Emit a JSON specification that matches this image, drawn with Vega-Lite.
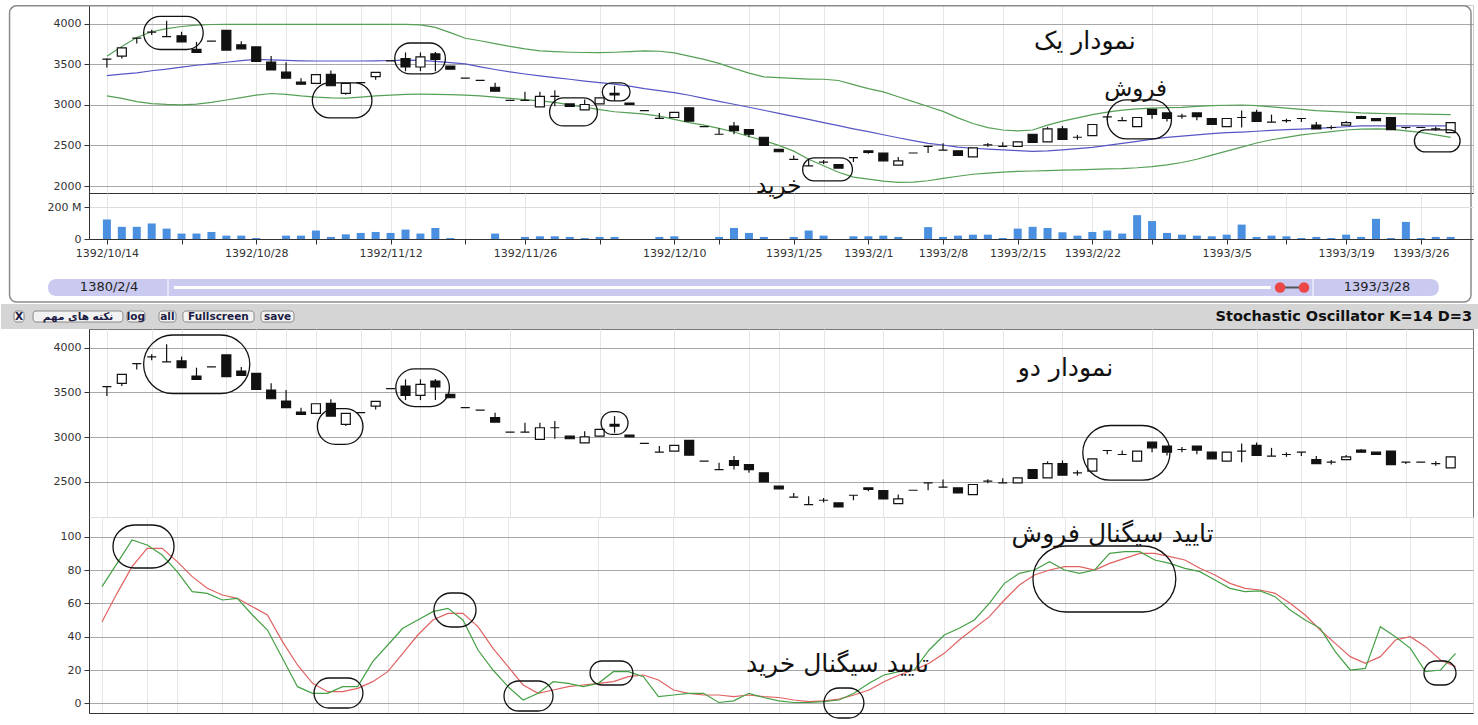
{
  "$schema": "https://vega.github.io/schema/vega-lite/v6.json",
  "padding": {"top": 4, "left": 0, "right": 0, "bottom": 8},
  "autosize": {"type": "pad"},
  "background": "#ffffff",
  "spacing": 0,
  "bounds": "flush",
  "config": {
    "font": "DejaVu Sans",
    "view": {"stroke": null},
    "concat": {"spacing": 0},
    "axis": {"labelFont": "DejaVu Sans", "labelFontSize": 11, "labelColor": "#333333", "domainColor": "#333333", "tickColor": "#333333", "tickSize": 5, "labelPadding": 3, "gridColor": "#a8a8a8", "labelOverlap": false},
    "axisX": {"gridColor": "#e6e6e6", "labelFlush": false, "labelOverlap": false}
  },
  "datasets": {
    "candles": [
      {"i":0,"o":3564,"h":3570,"l":3459,"c":3564,"u":3600,"m":3360,"lo":3110,"v":122,"k":70,"d":49},
      {"i":1,"o":3601,"h":3702,"l":3571,"c":3702,"u":3720,"m":3378,"lo":3080,"v":76,"k":84,"d":66},
      {"i":2,"o":3821,"h":3825,"l":3757,"c":3821,"u":3830,"m":3395,"lo":3040,"v":76,"k":98,"d":82},
      {"i":3,"o":3896,"h":3925,"l":3859,"c":3896,"u":3900,"m":3420,"lo":3015,"v":97,"k":95,"d":93},
      {"i":4,"o":3840,"h":4037,"l":3840,"c":3840,"u":3940,"m":3440,"lo":3005,"v":65,"k":89,"d":93},
      {"i":5,"o":3851,"h":3900,"l":3776,"c":3776,"u":3965,"m":3465,"lo":3000,"v":34,"k":79,"d":85},
      {"i":6,"o":3683,"h":3776,"l":3646,"c":3646,"u":3982,"m":3488,"lo":3010,"v":34,"k":67,"d":76},
      {"i":7,"o":3784,"h":3784,"l":3784,"c":3784,"u":3990,"m":3505,"lo":3030,"v":44,"k":66,"d":69},
      {"i":8,"o":3918,"h":3918,"l":3675,"c":3675,"u":3992,"m":3525,"lo":3060,"v":21,"k":62,"d":65},
      {"i":9,"o":3739,"h":3784,"l":3690,"c":3690,"u":3992,"m":3545,"lo":3090,"v":21,"k":63,"d":63},
      {"i":10,"o":3713,"h":3713,"l":3534,"c":3534,"u":3992,"m":3560,"lo":3120,"v":6,"k":53,"d":58},
      {"i":11,"o":3526,"h":3601,"l":3429,"c":3429,"u":3992,"m":3555,"lo":3140,"v":0,"k":44,"d":53},
      {"i":12,"o":3403,"h":3526,"l":3329,"c":3329,"u":3992,"m":3548,"lo":3130,"v":21,"k":27,"d":37},
      {"i":13,"o":3280,"h":3329,"l":3254,"c":3254,"u":3992,"m":3542,"lo":3110,"v":21,"k":10,"d":23},
      {"i":14,"o":3265,"h":3373,"l":3265,"c":3373,"u":3992,"m":3540,"lo":3095,"v":53,"k":6,"d":12},
      {"i":15,"o":3377,"h":3422,"l":3235,"c":3235,"u":3992,"m":3540,"lo":3085,"v":13,"k":6,"d":7},
      {"i":16,"o":3142,"h":3265,"l":3124,"c":3265,"u":3992,"m":3540,"lo":3082,"v":29,"k":10,"d":7},
      {"i":17,"o":3273,"h":3273,"l":3273,"c":3273,"u":3992,"m":3540,"lo":3095,"v":38,"k":10,"d":9},
      {"i":18,"o":3347,"h":3399,"l":3310,"c":3399,"u":3992,"m":3542,"lo":3110,"v":44,"k":25,"d":13},
      {"i":19,"o":3541,"h":3541,"l":3541,"c":3541,"u":3992,"m":3546,"lo":3120,"v":38,"k":35,"d":19},
      {"i":20,"o":3571,"h":3646,"l":3414,"c":3466,"u":3992,"m":3550,"lo":3128,"v":59,"k":45,"d":30},
      {"i":21,"o":3466,"h":3646,"l":3414,"c":3590,"u":3985,"m":3549,"lo":3131,"v":34,"k":50,"d":41},
      {"i":22,"o":3627,"h":3650,"l":3414,"c":3560,"u":3955,"m":3535,"lo":3130,"v":69,"k":55,"d":50},
      {"i":23,"o":3478,"h":3478,"l":3440,"c":3440,"u":3890,"m":3520,"lo":3125,"v":6,"k":57,"d":54},
      {"i":24,"o":3329,"h":3329,"l":3329,"c":3329,"u":3820,"m":3505,"lo":3120,"v":0,"k":50,"d":54},
      {"i":25,"o":3302,"h":3302,"l":3302,"c":3302,"u":3790,"m":3468,"lo":3110,"v":0,"k":32,"d":46},
      {"i":26,"o":3217,"h":3273,"l":3168,"c":3168,"u":3755,"m":3435,"lo":3095,"v":34,"k":20,"d":33},
      {"i":27,"o":3056,"h":3056,"l":3056,"c":3056,"u":3720,"m":3405,"lo":3080,"v":0,"k":10,"d":22},
      {"i":28,"o":3056,"h":3160,"l":3056,"c":3056,"u":3690,"m":3380,"lo":3065,"v":13,"k":2,"d":11},
      {"i":29,"o":2974,"h":3160,"l":2974,"c":3105,"u":3665,"m":3357,"lo":3050,"v":17,"k":6,"d":6},
      {"i":30,"o":3105,"h":3179,"l":2982,"c":3105,"u":3655,"m":3335,"lo":3030,"v":17,"k":13,"d":8},
      {"i":31,"o":3011,"h":3011,"l":2982,"c":2982,"u":3648,"m":3315,"lo":3000,"v":13,"k":12,"d":10},
      {"i":32,"o":2937,"h":3067,"l":2937,"c":3004,"u":3645,"m":3293,"lo":2970,"v":6,"k":10,"d":11},
      {"i":33,"o":3011,"h":3086,"l":3011,"c":3086,"u":3643,"m":3273,"lo":2940,"v":13,"k":12,"d":12},
      {"i":34,"o":3142,"h":3235,"l":3049,"c":3123,"u":3648,"m":3256,"lo":2915,"v":13,"k":19,"d":13},
      {"i":35,"o":3023,"h":3023,"l":3004,"c":3004,"u":3656,"m":3230,"lo":2900,"v":0,"k":19,"d":16},
      {"i":36,"o":2930,"h":2930,"l":2930,"c":2930,"u":3664,"m":3200,"lo":2885,"v":0,"k":16,"d":17},
      {"i":37,"o":2833,"h":2900,"l":2833,"c":2833,"u":3660,"m":3175,"lo":2860,"v":13,"k":4,"d":14},
      {"i":38,"o":2844,"h":2907,"l":2844,"c":2907,"u":3640,"m":3150,"lo":2820,"v":17,"k":5,"d":8},
      {"i":39,"o":2963,"h":2963,"l":2799,"c":2799,"u":3600,"m":3118,"lo":2780,"v":0,"k":6,"d":6},
      {"i":40,"o":2732,"h":2732,"l":2732,"c":2732,"u":3560,"m":3080,"lo":2750,"v":0,"k":6,"d":5},
      {"i":41,"o":2638,"h":2713,"l":2638,"c":2638,"u":3510,"m":3043,"lo":2710,"v":13,"k":0.5,"d":5},
      {"i":42,"o":2739,"h":2788,"l":2638,"c":2683,"u":3450,"m":3007,"lo":2665,"v":69,"k":1.5,"d":4},
      {"i":43,"o":2694,"h":2694,"l":2601,"c":2638,"u":3390,"m":2970,"lo":2610,"v":38,"k":6,"d":5},
      {"i":44,"o":2601,"h":2601,"l":2500,"c":2500,"u":3344,"m":2933,"lo":2560,"v":13,"k":3.5,"d":4},
      {"i":45,"o":2452,"h":2452,"l":2422,"c":2422,"u":3335,"m":2895,"lo":2500,"v":0,"k":1.5,"d":3.5},
      {"i":46,"o":2329,"h":2377,"l":2329,"c":2329,"u":3325,"m":2858,"lo":2430,"v":13,"k":0.5,"d":2},
      {"i":47,"o":2247,"h":2340,"l":2247,"c":2247,"u":3318,"m":2820,"lo":2330,"v":53,"k":0.5,"d":1},
      {"i":48,"o":2295,"h":2320,"l":2270,"c":2295,"u":3315,"m":2780,"lo":2250,"v":21,"k":1,"d":1.5},
      {"i":49,"o":2265,"h":2265,"l":2221,"c":2221,"u":3300,"m":2743,"lo":2170,"v":0,"k":2,"d":2.5},
      {"i":50,"o":2351,"h":2351,"l":2295,"c":2351,"u":3250,"m":2705,"lo":2110,"v":17,"k":6,"d":5},
      {"i":51,"o":2433,"h":2433,"l":2396,"c":2415,"u":3200,"m":2670,"lo":2085,"v":17,"k":12,"d":8},
      {"i":52,"o":2404,"h":2404,"l":2310,"c":2310,"u":3160,"m":2632,"lo":2060,"v":21,"k":17,"d":13},
      {"i":53,"o":2258,"h":2358,"l":2258,"c":2310,"u":3100,"m":2595,"lo":2045,"v":13,"k":19,"d":17},
      {"i":54,"o":2407,"h":2407,"l":2407,"c":2407,"u":3040,"m":2560,"lo":2048,"v":0,"k":20,"d":20},
      {"i":55,"o":2489,"h":2489,"l":2407,"c":2489,"u":2980,"m":2525,"lo":2065,"v":74,"k":32,"d":24},
      {"i":56,"o":2441,"h":2527,"l":2441,"c":2441,"u":2920,"m":2505,"lo":2095,"v":13,"k":41,"d":30},
      {"i":57,"o":2433,"h":2433,"l":2377,"c":2377,"u":2840,"m":2480,"lo":2120,"v":21,"k":45,"d":38},
      {"i":58,"o":2359,"h":2471,"l":2359,"c":2471,"u":2770,"m":2465,"lo":2145,"v":27,"k":50,"d":45},
      {"i":59,"o":2508,"h":2530,"l":2485,"c":2508,"u":2720,"m":2455,"lo":2160,"v":27,"k":60,"d":52},
      {"i":60,"o":2489,"h":2540,"l":2489,"c":2489,"u":2690,"m":2445,"lo":2170,"v":6,"k":72,"d":62},
      {"i":61,"o":2489,"h":2545,"l":2489,"c":2545,"u":2680,"m":2435,"lo":2180,"v":65,"k":78,"d":71},
      {"i":62,"o":2638,"h":2638,"l":2538,"c":2538,"u":2690,"m":2428,"lo":2185,"v":76,"k":80,"d":77},
      {"i":63,"o":2545,"h":2730,"l":2545,"c":2705,"u":2750,"m":2432,"lo":2190,"v":69,"k":85,"d":80},
      {"i":64,"o":2705,"h":2740,"l":2575,"c":2575,"u":2800,"m":2445,"lo":2195,"v":42,"k":80,"d":82},
      {"i":65,"o":2601,"h":2630,"l":2570,"c":2601,"u":2840,"m":2460,"lo":2200,"v":21,"k":78,"d":82},
      {"i":66,"o":2620,"h":2758,"l":2620,"c":2758,"u":2880,"m":2475,"lo":2205,"v":44,"k":80,"d":80},
      {"i":67,"o":2851,"h":2851,"l":2810,"c":2851,"u":2910,"m":2500,"lo":2210,"v":53,"k":90,"d":84},
      {"i":68,"o":2806,"h":2850,"l":2806,"c":2806,"u":2935,"m":2525,"lo":2215,"v":34,"k":91,"d":87},
      {"i":69,"o":2732,"h":2844,"l":2732,"c":2844,"u":2950,"m":2550,"lo":2225,"v":149,"k":91,"d":90},
      {"i":70,"o":2944,"h":2944,"l":2830,"c":2881,"u":2960,"m":2578,"lo":2240,"v":112,"k":86,"d":90},
      {"i":71,"o":2900,"h":2900,"l":2795,"c":2832,"u":2965,"m":2600,"lo":2260,"v":38,"k":84,"d":88},
      {"i":72,"o":2862,"h":2890,"l":2830,"c":2862,"u":2970,"m":2615,"lo":2290,"v":27,"k":81,"d":86},
      {"i":73,"o":2900,"h":2900,"l":2810,"c":2855,"u":2980,"m":2630,"lo":2330,"v":21,"k":79,"d":81},
      {"i":74,"o":2832,"h":2832,"l":2758,"c":2758,"u":2990,"m":2645,"lo":2380,"v":17,"k":74,"d":77},
      {"i":75,"o":2732,"h":2832,"l":2732,"c":2832,"u":2995,"m":2657,"lo":2430,"v":27,"k":69,"d":72},
      {"i":76,"o":2844,"h":2930,"l":2720,"c":2844,"u":2998,"m":2665,"lo":2480,"v":90,"k":67,"d":69},
      {"i":77,"o":2907,"h":2940,"l":2795,"c":2795,"u":2990,"m":2675,"lo":2530,"v":13,"k":67.5,"d":68},
      {"i":78,"o":2788,"h":2880,"l":2788,"c":2788,"u":2975,"m":2685,"lo":2570,"v":21,"k":64,"d":66},
      {"i":79,"o":2806,"h":2830,"l":2780,"c":2806,"u":2960,"m":2695,"lo":2600,"v":17,"k":56,"d":60},
      {"i":80,"o":2832,"h":2832,"l":2790,"c":2832,"u":2945,"m":2702,"lo":2630,"v":6,"k":50,"d":53},
      {"i":81,"o":2750,"h":2790,"l":2705,"c":2705,"u":2930,"m":2710,"lo":2650,"v":13,"k":45,"d":44},
      {"i":82,"o":2721,"h":2745,"l":2695,"c":2721,"u":2920,"m":2720,"lo":2670,"v":6,"k":31,"d":36},
      {"i":83,"o":2750,"h":2800,"l":2750,"c":2780,"u":2910,"m":2730,"lo":2690,"v":27,"k":20,"d":28},
      {"i":84,"o":2855,"h":2865,"l":2832,"c":2832,"u":2900,"m":2740,"lo":2700,"v":13,"k":21,"d":24},
      {"i":85,"o":2832,"h":2832,"l":2806,"c":2806,"u":2895,"m":2742,"lo":2705,"v":126,"k":46,"d":28},
      {"i":86,"o":2844,"h":2844,"l":2694,"c":2694,"u":2890,"m":2742,"lo":2700,"v":6,"k":40,"d":38},
      {"i":87,"o":2721,"h":2721,"l":2700,"c":2721,"u":2888,"m":2742,"lo":2680,"v":107,"k":33,"d":40},
      {"i":88,"o":2721,"h":2721,"l":2721,"c":2721,"u":2885,"m":2742,"lo":2660,"v":6,"k":19,"d":34},
      {"i":89,"o":2705,"h":2730,"l":2680,"c":2705,"u":2882,"m":2741,"lo":2630,"v":13,"k":20,"d":26},
      {"i":90,"o":2657,"h":2780,"l":2657,"c":2780,"u":2880,"m":2740,"lo":2600,"v":13,"k":30,"d":22}
    ],
    "ellipses": [
      {"p":1,"i1":2.46,"i2":6.45,"v1":4089,"v2":3682},
      {"p":1,"i1":13.76,"i2":17.75,"v1":3270,"v2":2839},
      {"p":1,"i1":19.28,"i2":22.67,"v1":3762,"v2":3381},
      {"p":1,"i1":29.65,"i2":32.85,"v1":3085,"v2":2740},
      {"p":1,"i1":33.18,"i2":35.04,"v1":3270,"v2":3048},
      {"p":1,"i1":46.6,"i2":49.93,"v1":2346,"v2":2063},
      {"p":1,"i1":67.0,"i2":71.3,"v1":3060,"v2":2580},
      {"p":1,"i1":87.57,"i2":90.63,"v1":2691,"v2":2420},
      {"p":5,"i1":2.46,"i2":9.57,"v1":4141,"v2":3486},
      {"p":5,"i1":14.1,"i2":17.15,"v1":3319,"v2":2919},
      {"p":5,"i1":19.35,"i2":22.94,"v1":3763,"v2":3341},
      {"p":5,"i1":33.1,"i2":34.9,"v1":3286,"v2":3030},
      {"p":5,"i1":65.36,"i2":71.2,"v1":3130,"v2":2519},
      {"p":6,"i1":0.73,"i2":4.79,"v1":107,"v2":81.2},
      {"p":6,"i1":14.1,"i2":17.35,"v1":15.2,"v2":-2.8},
      {"p":6,"i1":22.07,"i2":24.87,"v1":66.2,"v2":45.8},
      {"p":6,"i1":26.73,"i2":29.99,"v1":13.4,"v2":-4.6},
      {"p":6,"i1":32.45,"i2":35.3,"v1":25.4,"v2":11},
      {"p":6,"i1":48.0,"i2":50.66,"v1":9.2,"v2":-8.8},
      {"p":6,"i1":61.9,"i2":71.4,"v1":94.4,"v2":54.8},
      {"p":6,"i1":87.9,"i2":90.03,"v1":25.4,"v2":11}
    ],
    "notes": [
      {"p":1,"i":65.5,"val":3785,"t":"نمودار یک"},
      {"p":1,"i":68.9,"val":3196,"t":"فروش"},
      {"p":1,"i":45.0,"val":2001,"t":"خرید"},
      {"p":5,"i":64.2,"val":3774,"t":"نمودار دو"},
      {"p":6,"i":67.2,"val":101.6,"t":"تایید سیگنال فروش"},
      {"p":6,"i":48.9,"val":23.6,"t":"تایید سیگنال خرید"}
    ]
  },
  "vconcat": [
    {
      "width": 1384, "height": 188,
      "view": {"stroke": "#cccccc"},
      "encoding": {
        "x": {"field": "i", "type": "quantitative", "title": null, "scale": {"domain": [-0.864, 91.16], "nice": false, "zero": false},
              "axis": {"values": [0,3,5,8,10,12,14,17,19,21,24,27,33,38,43,45,48,52,56,60,64,70,74,77,80,83,87], "tickCount": 100, "labels": false, "ticks": false, "grid": true}}
      },
      "layer": [
        {"data": {"values": [{"a": -6.52, "b": 91.36, "t": 4220, "bt": 571}]},
         "mark": {"type": "rect", "fill": "#ffffff", "fillOpacity": 0, "stroke": "#8c8c8c", "strokeWidth": 1.5, "cornerRadius": 7},
         "encoding": {"x": {"field": "a", "type": "quantitative", "title": null, "scale": {"domain": [-0.864, 91.16], "nice": false, "zero": false}}, "x2": {"field": "b"},
           "y": {"field": "t", "type": "quantitative", "title": null, "scale": {"domain": [1914, 4230], "nice": false, "zero": false}}, "y2": {"field": "bt"}}},
        {"data": {"name": "candles"}, "mark": {"type": "line", "color": "#55a055", "strokeWidth": 1.2},
         "encoding": {"y": {"field": "u", "type": "quantitative", "title": null, "scale": {"domain": [1914, 4230], "nice": false, "zero": false},
           "axis": {"values": [2000, 2500, 3000, 3500, 4000], "tickCount": 20, "format": "d", "grid": true, "labelOverlap": false}}}},
        {"data": {"name": "candles"}, "mark": {"type": "line", "color": "#55a055", "strokeWidth": 1.2},
         "encoding": {"y": {"field": "lo", "type": "quantitative", "title": null, "scale": {"domain": [1914, 4230], "nice": false, "zero": false}}}},
        {"data": {"name": "candles"}, "mark": {"type": "line", "color": "#5656c6", "strokeWidth": 1.2},
         "encoding": {"y": {"field": "m", "type": "quantitative", "title": null, "scale": {"domain": [1914, 4230], "nice": false, "zero": false}}}},
        {"data": {"name": "candles"}, "mark": {"type": "rule", "color": "#111111", "strokeWidth": 1.2},
         "encoding": {"y": {"field": "l", "type": "quantitative", "title": null, "scale": {"domain": [1914, 4230], "nice": false, "zero": false}}, "y2": {"field": "h"}}},
        {"data": {"name": "candles"}, "mark": {"type": "bar", "width": 9, "stroke": "#111111", "strokeWidth": 1.2},
         "encoding": {"y": {"field": "o", "type": "quantitative", "title": null, "scale": {"domain": [1914, 4230], "nice": false, "zero": false}}, "y2": {"field": "c"},
           "fill": {"condition": {"test": "datum.c < datum.o", "value": "#111111"}, "value": "#ffffff"}}},
        {"data": {"name": "ellipses"}, "transform": [{"filter": "datum.p == 1"}],
         "mark": {"type": "rect", "fill": "#ffffff", "fillOpacity": 0, "stroke": "#111111", "strokeWidth": 1.3, "cornerRadius": 300},
         "encoding": {"x": {"field": "i1", "type": "quantitative", "title": null, "scale": {"domain": [-0.864, 91.16], "nice": false, "zero": false}}, "x2": {"field": "i2"},
           "y": {"field": "v1", "type": "quantitative", "title": null, "scale": {"domain": [1914, 4230], "nice": false, "zero": false}}, "y2": {"field": "v2"}}},
        {"data": {"name": "notes"}, "transform": [{"filter": "datum.p == 1"}],
         "mark": {"type": "text", "font": "DejaVu Sans", "color": "#111111"},
         "encoding": {"y": {"field": "val", "type": "quantitative", "title": null, "scale": {"domain": [1914, 4230], "nice": false, "zero": false}}, "text": {"field": "t"},
           "size": {"condition": {"test": "length(datum.t) < 5", "value": 23}, "value": 25}}}
      ]
    },
    {
      "width": 1384, "height": 46,
      "data": {"name": "candles"},
      "mark": {"type": "bar", "width": 8, "color": "#4a8fe0"},
      "encoding": {
        "x": {"field": "i", "type": "quantitative", "title": null, "scale": {"domain": [-0.864, 91.16], "nice": false, "zero": false},
              "axis": {"values": [0,5,10,14,19,24,28,33,38,41,46,51,56,61,66,70,75,79,83,88], "tickCount": 100, "grid": true, "labelFontSize": 11,
                       "labelExpr": "{'0':'1392/10/14','10':'1392/10/28','19':'1392/11/12','28':'1392/11/26','38':'1392/12/10','46':'1393/1/25','51':'1393/2/1','56':'1393/2/8','61':'1393/2/15','66':'1393/2/22','75':'1393/3/5','83':'1393/3/19','88':'1393/3/26'}[datum.value] || ''"}},
        "y": {"field": "v", "type": "quantitative", "title": null, "scale": {"domain": [0, 287.5], "nice": false},
              "axis": {"values": [0, 200], "labelExpr": "datum.value == 0 ? '0' : datum.value + ' M'", "grid": true, "gridColor": "#dddddd", "labelOverlap": false}}
      }
    },
    {
      "width": 1384, "height": 65,
      "layer": [
        {"data": {"values": [{"a": 3.18, "b": 97.29}]},
         "mark": {"type": "rect", "fill": "#cacaf0", "cornerRadius": 8},
         "encoding": {"x": {"field": "a", "type": "quantitative", "scale": {"domain": [5.954, 99.594], "nice": false, "zero": false}, "axis": null}, "x2": {"field": "b"},
                      "y": {"datum": 0.123, "type": "quantitative", "scale": {"domain": [0, 1], "nice": false}, "axis": null}, "y2": {"datum": 0.385}}},
        {"data": {"values": [{"a": 11.7, "b": 85.9}]},
         "mark": {"type": "rule", "color": "#ffffff", "strokeWidth": 3},
         "encoding": {"x": {"field": "a", "type": "quantitative"}, "x2": {"field": "b"}, "y": {"datum": 0.254, "type": "quantitative"}}},
        {"data": {"values": [{"a": 11.3}, {"a": 88.77}]},
         "mark": {"type": "rule", "color": "#eeeefa", "strokeWidth": 1.5},
         "encoding": {"x": {"field": "a", "type": "quantitative"}, "y": {"datum": 0.123, "type": "quantitative"}, "y2": {"datum": 0.385}}},
        {"data": {"values": [{"a": 86.54, "b": 88.16}]},
         "mark": {"type": "rule", "color": "#555555", "strokeWidth": 2},
         "encoding": {"x": {"field": "a", "type": "quantitative"}, "x2": {"field": "b"}, "y": {"datum": 0.254, "type": "quantitative"}}},
        {"data": {"values": [{"a": 86.54}, {"a": 88.16}]},
         "mark": {"type": "point", "filled": true, "color": "#ec4747", "size": 110, "opacity": 1},
         "encoding": {"x": {"field": "a", "type": "quantitative"}, "y": {"datum": 0.254, "type": "quantitative"}}},
        {"data": {"values": [{"t": "1380/2/4", "a": 7.31}, {"t": "1393/3/28", "a": 93.1}]},
         "mark": {"type": "text", "font": "DejaVu Sans", "fontSize": 13, "color": "#222222"},
         "encoding": {"x": {"field": "a", "type": "quantitative"}, "y": {"datum": 0.254, "type": "quantitative"}, "text": {"field": "t"}}}
      ]
    },
    {
      "width": 1384, "height": 25,
      "layer": [
        {"data": {"values": [{"a": 0, "b": 100}]},
         "mark": {"type": "rect", "fill": "#d5d5d5"},
         "encoding": {"x": {"field": "a", "type": "quantitative", "scale": {"domain": [5.954, 99.594], "nice": false, "zero": false}, "axis": null}, "x2": {"field": "b"},
                      "y": {"datum": 0, "type": "quantitative", "scale": {"domain": [0, 1], "nice": false}, "axis": null}, "y2": {"datum": 1}}},
        {"data": {"values": [
            {"t": "X", "a": 0.88, "b": 1.56, "m": 1.22},
            {"t": "نکته های مهم", "a": 2.17, "b": 8.25, "m": 5.21},
            {"t": "log", "a": 8.53, "b": 9.74, "m": 9.13},
            {"t": "all", "a": 10.69, "b": 11.84, "m": 11.26},
            {"t": "Fullscreen", "a": 12.31, "b": 17.12, "m": 14.71},
            {"t": "save", "a": 17.59, "b": 19.82, "m": 18.71}]},
         "layer": [
           {"mark": {"type": "rect", "fill": "#f2f2f2", "stroke": "#8a8a8a", "strokeWidth": 1, "cornerRadius": 3},
            "encoding": {"x": {"field": "a", "type": "quantitative"}, "x2": {"field": "b"},
                         "y": {"datum": 0.28, "type": "quantitative"}, "y2": {"datum": 0.72}}},
           {"mark": {"type": "text", "font": "DejaVu Sans", "fontSize": 10.5, "fontWeight": "bold", "color": "#1c1c44"},
            "encoding": {"x": {"field": "m", "type": "quantitative"}, "y": {"datum": 0.5, "type": "quantitative"}, "text": {"field": "t"}}}
         ]},
        {"data": {"values": [{"t": "Stochastic Oscillator K=14 D=3", "m": 99.53}]},
         "mark": {"type": "text", "font": "DejaVu Sans", "fontSize": 14.5, "fontWeight": "bold", "align": "right", "color": "#111111"},
         "encoding": {"x": {"field": "m", "type": "quantitative"}, "y": {"datum": 0.5, "type": "quantitative"}, "text": {"field": "t"}}}
      ]
    },
    {
      "width": 1384, "height": 188,
      "view": {"stroke": "#777777"},
      "encoding": {
        "x": {"field": "i", "type": "quantitative", "title": null, "scale": {"domain": [-0.864, 91.16], "nice": false, "zero": false},
              "axis": {"values": [0,3,5,8,10,12,14,17,19,21,24,27,33,38,43,45,48,52,56,60,64,70,74,77,80,83,87], "tickCount": 100, "labels": false, "ticks": false, "grid": true}}
      },
      "layer": [
        {"data": {"name": "candles"}, "mark": {"type": "rule", "color": "#111111", "strokeWidth": 1.2},
         "encoding": {"y": {"field": "l", "type": "quantitative", "title": null, "scale": {"domain": [2108, 4208], "nice": false, "zero": false},
           "axis": {"values": [2500, 3000, 3500, 4000], "tickCount": 20, "format": "d", "grid": true, "labelOverlap": false}}, "y2": {"field": "h"}}},
        {"data": {"name": "candles"}, "mark": {"type": "bar", "width": 9, "stroke": "#111111", "strokeWidth": 1.2},
         "encoding": {"y": {"field": "o", "type": "quantitative", "title": null, "scale": {"domain": [2108, 4208], "nice": false, "zero": false}}, "y2": {"field": "c"},
           "fill": {"condition": {"test": "datum.c < datum.o", "value": "#111111"}, "value": "#ffffff"}}},
        {"data": {"name": "ellipses"}, "transform": [{"filter": "datum.p == 5"}],
         "mark": {"type": "rect", "fill": "#ffffff", "fillOpacity": 0, "stroke": "#111111", "strokeWidth": 1.3, "cornerRadius": 300},
         "encoding": {"x": {"field": "i1", "type": "quantitative", "title": null, "scale": {"domain": [-0.864, 91.16], "nice": false, "zero": false}}, "x2": {"field": "i2"},
           "y": {"field": "v1", "type": "quantitative", "title": null, "scale": {"domain": [2108, 4208], "nice": false, "zero": false}}, "y2": {"field": "v2"}}},
        {"data": {"name": "notes"}, "transform": [{"filter": "datum.p == 5"}],
         "mark": {"type": "text", "font": "DejaVu Sans", "fontSize": 25, "color": "#111111"},
         "encoding": {"y": {"field": "val", "type": "quantitative", "title": null, "scale": {"domain": [2108, 4208], "nice": false, "zero": false}}, "text": {"field": "t"}}}
      ]
    },
    {
      "width": 1384, "height": 196,
      "view": {"stroke": "#dddddd"},
      "encoding": {
        "x": {"field": "i", "type": "quantitative", "title": null, "scale": {"domain": [-0.864, 91.16], "nice": false, "zero": false},
              "axis": {"values": [0,3,5,8,10,12,14,17,19,21,24,27,33,38,43,45,48,52,56,60,64,70,74,77,80,83,87], "tickCount": 100, "labels": false, "ticks": false, "grid": true}}
      },
      "layer": [
        {"data": {"name": "candles"}, "mark": {"type": "line", "color": "#e06262", "strokeWidth": 1.2},
         "encoding": {"y": {"field": "d", "type": "quantitative", "title": null, "scale": {"domain": [-5.8, 111.8], "nice": false, "zero": false},
           "axis": {"values": [0, 20, 40, 60, 80, 100], "tickCount": 20, "grid": true, "labelOverlap": false}}}},
        {"data": {"name": "candles"}, "mark": {"type": "line", "color": "#45a045", "strokeWidth": 1.2},
         "encoding": {"y": {"field": "k", "type": "quantitative", "title": null, "scale": {"domain": [-5.8, 111.8], "nice": false, "zero": false}}}},
        {"data": {"name": "ellipses"}, "transform": [{"filter": "datum.p == 6"}],
         "mark": {"type": "rect", "fill": "#ffffff", "fillOpacity": 0, "stroke": "#111111", "strokeWidth": 1.3, "cornerRadius": 300},
         "encoding": {"x": {"field": "i1", "type": "quantitative", "title": null, "scale": {"domain": [-0.864, 91.16], "nice": false, "zero": false}}, "x2": {"field": "i2"},
           "y": {"field": "v1", "type": "quantitative", "title": null, "scale": {"domain": [-5.8, 111.8], "nice": false, "zero": false}}, "y2": {"field": "v2"}}},
        {"data": {"name": "notes"}, "transform": [{"filter": "datum.p == 6"}],
         "mark": {"type": "text", "font": "DejaVu Sans", "fontSize": 25, "color": "#111111"},
         "encoding": {"y": {"field": "val", "type": "quantitative", "title": null, "scale": {"domain": [-5.8, 111.8], "nice": false, "zero": false}}, "text": {"field": "t"}}}
      ]
    }
  ]
}
